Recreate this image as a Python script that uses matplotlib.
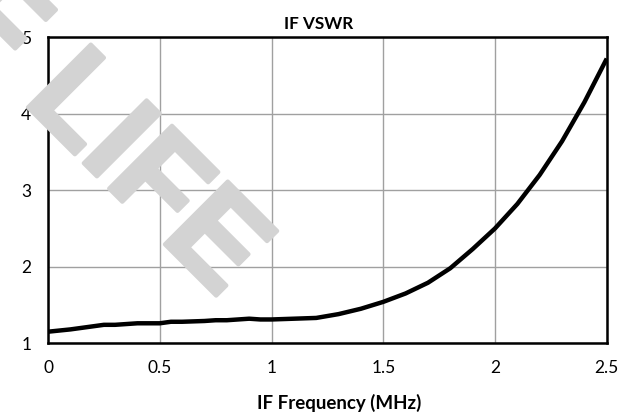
import matplotlib
matplotlib.use("Agg")
import matplotlib.pyplot as plt
import matplotlib.patheffects as pe

# IF VSWR curve
freq_mhz = [0, 0.1, 0.2, 0.25, 0.3, 0.4, 0.5, 0.55, 0.6, 0.7, 0.75, 0.8, 0.9, 0.95,
            1.0, 1.1, 1.2, 1.3, 1.4, 1.5, 1.6, 1.7, 1.8, 1.9, 2.0, 2.1, 2.2, 2.3, 2.4, 2.5]
vswr = [1.15, 1.18, 1.22, 1.24, 1.24, 1.26, 1.26, 1.28, 1.28, 1.29, 1.30, 1.30, 1.32, 1.31,
        1.31, 1.32, 1.33, 1.38, 1.45, 1.54, 1.65, 1.79, 1.98, 2.23, 2.50, 2.82, 3.20, 3.64, 4.15, 4.72]

x_ticks = [0, 0.5, 1, 1.5, 2, 2.5]
x_tick_labels = ["0", "0.5", "1", "1.5", "2", "2.5"]
y_ticks = [1, 2, 3, 4, 5]

plt.rcParams['font.family'] = ['Lato', 'DejaVu Sans']

fig = plt.figure(figsize=(6.36, 4.18), dpi=100)
ax = fig.add_axes([0.0755, 0.179, 0.8785, 0.732])
ax.set_facecolor("none")

# watermark behind the plot, most of it runs off the top-left corner
wm_col = "#d3d3d3"
fig.text(0.345, 0.285, "END OF LIFE", fontsize=93, fontweight="bold",
         family="Liberation Sans", color=wm_col,
         rotation=-45, ha="right", va="baseline", rotation_mode="anchor", zorder=0,
         path_effects=[pe.withStroke(linewidth=3, foreground=wm_col)])

ax.plot(freq_mhz, vswr, color="black", lw=3.2, solid_capstyle="butt")

ax.set_xlim(0, 2.5)
ax.set_ylim(1, 5)
ax.set_xticks(x_ticks)
ax.set_xticklabels(x_tick_labels)
ax.set_yticks(y_ticks)
ax.grid(True, color="#a0a0a0", lw=1.0)
ax.tick_params(length=0, labelsize=12.5, pad=12)
for s in ax.spines.values():
    s.set_linewidth(1.8)
    s.set_color("black")

ax.set_title("IF VSWR", fontsize=12.3, fontweight="bold", pad=6, x=0.484)
ax.set_xlabel("IF Frequency (MHz)", fontsize=13.5, fontweight="bold", labelpad=13, x=0.5206)

fig.savefig("out.png", dpi=100)
